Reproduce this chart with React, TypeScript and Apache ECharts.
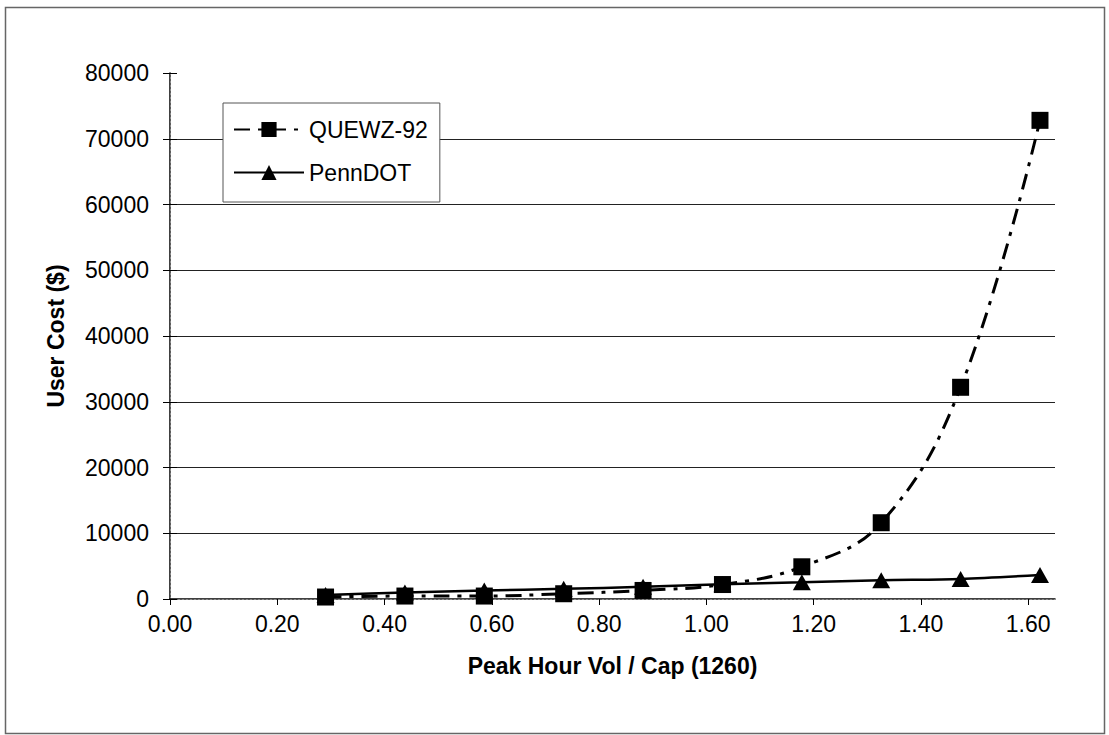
import React, { useEffect, useRef } from "react";
import * as echarts from "echarts";

const volCap = [0.29, 0.438, 0.586, 0.734, 0.882, 1.03, 1.178, 1.326, 1.474, 1.622];
const quewz = [300, 450, 450, 800, 1300, 2200, 4900, 11600, 32200, 72800];
const penndot = [600, 1000, 1300, 1550, 1850, 2250, 2550, 2850, 3050, 3650];
const xTicks = [0, 0.2, 0.4, 0.6, 0.8, 1.0, 1.2, 1.4, 1.6];

const FONT = 'Arial, "Liberation Sans", sans-serif';

export default function App() {
  const ref = useRef<HTMLDivElement>(null);
  useEffect(() => {
    if (!ref.current) return;
    const chart = echarts.init(ref.current, undefined, { renderer: "svg" });
    const q = volCap.map((x, i) => [x, quewz[i]]);
    const p = volCap.map((x, i) => [x, penndot[i]]);
    chart.setOption({
      animation: false,
      backgroundColor: "#fff",
      textStyle: { fontFamily: FONT },
      graphic: [
        {
          type: "rect",
          shape: { x: 5.5, y: 7.5, width: 1099, height: 726 },
          style: { fill: "none", stroke: "#666", lineWidth: 1.5 },
          silent: true,
          z: -10,
        },
      ],
      grid: { left: 170, top: 73, right: 54, bottom: 136 },
      legend: {
        orient: "vertical",
        left: 223,
        top: 103,
        padding: [15, 12, 18, 10],
        itemGap: 20,
        itemWidth: 70,
        itemHeight: 19,
        backgroundColor: "#fff",
        borderColor: "#555",
        borderWidth: 1,
        textStyle: { fontSize: 23, color: "#000", fontFamily: FONT },
        data: ["QUEWZ-92", "PennDOT"],
      },
      xAxis: [
        {
          type: "value",
          min: 0,
          max: 1.65,
          interval: 0.2,
          name: "Peak Hour Vol / Cap (1260)",
          nameLocation: "middle",
          nameGap: 55,
          nameMoveOverlap: false,
          nameTextStyle: { fontSize: 23, fontWeight: "bold", color: "#000", fontFamily: FONT },
          axisLine: { show: true, onZero: false, lineStyle: { color: "#000", width: 1.5 } },
          axisTick: { show: true, length: 6, customValues: xTicks, lineStyle: { color: "#000" } },
          axisLabel: {
            customValues: xTicks,
            fontSize: 23,
            color: "#000",
            margin: 13,
            formatter: (v: number) => v.toFixed(2),
          },
          splitLine: { show: false },
        },
        {
          type: "value",
          position: "top",
          min: 0,
          max: 1.65,
          axisLine: { show: true, lineStyle: { color: "#888", type: [2, 2], width: 1 } },
          axisTick: { show: false },
          axisLabel: { show: false },
          splitLine: { show: false },
        },
      ],
      yAxis: [
        {
          type: "value",
          min: 0,
          max: 80000,
          interval: 10000,
          name: "User Cost ($)",
          nameLocation: "middle",
          nameGap: 103,
          nameRotate: 90,
          nameMoveOverlap: false,
          nameTextStyle: { fontSize: 23, fontWeight: "bold", color: "#000", fontFamily: FONT },
          axisLine: { show: true, lineStyle: { color: "#000", width: 1.5 } },
          axisTick: { show: true, length: 7, lineStyle: { color: "#000" } },
          axisLabel: {
            fontSize: 23,
            color: "#000",
            margin: 21,
            formatter: (v: number) => String(v),
          },
          splitLine: {
            show: true,
            showMinLine: false,
            showMaxLine: false,
            lineStyle: { color: "#222", width: 1.2 },
          },
        },
        {
          type: "value",
          position: "right",
          min: 0,
          max: 80000,
          axisLine: { show: true, lineStyle: { color: "#888", type: [2, 2], width: 1 } },
          axisTick: { show: false },
          axisLabel: { show: false },
          splitLine: { show: false },
        },
        {
          type: "value",
          position: "left",
          min: 0,
          max: 80000,
          interval: 10000,
          axisLine: { show: false },
          axisTick: { show: true, inside: true, length: 7, lineStyle: { color: "#000" } },
          axisLabel: { show: false },
          splitLine: { show: false },
        },
      ],
      series: [
        {
          name: "QUEWZ-92",
          type: "line",
          data: q,
          smooth: 0.4,
          symbol: "rect",
          symbolSize: 17,
          itemStyle: { color: "#000" },
          lineStyle: { color: "#000", width: 3, type: [16, 8, 4, 8] },
          z: 3,
        },
        {
          name: "PennDOT",
          type: "line",
          data: p,
          smooth: 0.3,
          symbol: "triangle",
          symbolSize: [18, 16],
          itemStyle: { color: "#000" },
          lineStyle: { color: "#000", width: 2.5, type: "solid" },
          z: 2,
        },
      ],
    });
    return () => chart.dispose();
  }, []);
  return (
    <div
      ref={ref}
      style={{ position: "fixed", left: 0, top: 0, width: 1109, height: 735, background: "#fff" }}
    />
  );
}
